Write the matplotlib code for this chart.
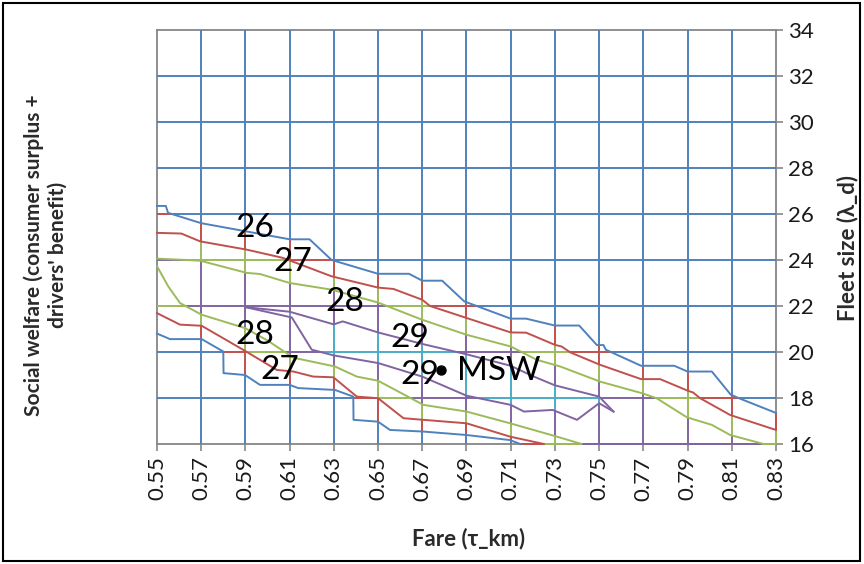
import numpy as np
import matplotlib
matplotlib.use("Agg")
import matplotlib.pyplot as plt
from matplotlib.collections import LineCollection
from matplotlib.patches import Rectangle

plt.rcParams['font.family'] = ['Lato', 'DejaVu Sans']

# fare axis and fleet axis categories
fares = np.round(np.arange(0.55, 0.8301, 0.02), 2)
fleets = np.arange(16, 35, 2)

# welfare contour lines (fare, fleet) - upper side of the ridge
fare_26_up = [0.550, 0.554, 0.555, 0.570, 0.590, 0.610, 0.619, 0.629, 0.650, 0.664, 0.670, 0.679, 0.689,
              0.696, 0.710, 0.717, 0.730, 0.741, 0.749, 0.752, 0.753, 0.769, 0.784, 0.790, 0.801, 0.8095,
              0.813, 0.830]
fleet_26_up = [26.35, 26.35, 26.05, 25.6, 25.25, 24.9, 24.9, 24.0, 23.4, 23.4, 23.1, 23.1, 22.2,
               21.95, 21.45, 21.45, 21.15, 21.15, 20.3, 20.3, 20.1, 19.4, 19.4, 19.15, 19.15, 18.15,
               18.0, 17.35]

fare_27_up = [0.550, 0.561, 0.5695, 0.5906, 0.607, 0.629, 0.650, 0.657, 0.670, 0.6735, 0.690, 0.710,
              0.717, 0.730, 0.733, 0.737, 0.7505, 0.769, 0.7776, 0.790, 0.7925, 0.7957, 0.8093, 0.830]
fleet_27_up = [25.18, 25.15, 24.81, 24.45, 24.09, 23.29, 22.8, 22.74, 22.27, 22.0, 21.48, 20.85,
               20.84, 20.31, 20.24, 19.98, 19.44, 18.82, 18.82, 18.32, 18.24, 17.99, 17.26, 16.61]

fare_28_up = [0.550, 0.5695, 0.5906, 0.5966, 0.610, 0.629, 0.650, 0.670, 0.690, 0.710, 0.7218, 0.7324,
              0.7505, 0.7693, 0.776, 0.7897, 0.801, 0.8093, 0.8244]
fleet_28_up = [24.06, 23.97, 23.44, 23.39, 23.0, 22.71, 22.15, 21.40, 20.75, 20.24, 19.66, 19.37,
               18.71, 18.21, 17.99, 17.16, 16.83, 16.39, 16.0]

fare_29_up = [0.590, 0.610, 0.630, 0.634, 0.650, 0.670, 0.690, 0.710, 0.720, 0.730, 0.750, 0.7565]
fleet_29_up = [21.95, 21.75, 21.2, 21.33, 20.85, 20.35, 19.9, 19.4, 18.95, 18.55, 18.06, 17.41]

# lower side of the ridge
fare_29_low = [0.590, 0.611, 0.620, 0.630, 0.650, 0.670, 0.690, 0.710, 0.716, 0.729, 0.740, 0.750, 0.7565]
fleet_29_low = [21.95, 21.5, 20.1, 19.85, 19.52, 18.93, 18.1, 17.7, 17.41, 17.48, 17.05, 17.77, 17.41]

fare_28_low = [0.550, 0.5551, 0.5604, 0.5702, 0.5898, 0.600, 0.6117, 0.6305, 0.6404, 0.650, 0.6705,
               0.690, 0.7097, 0.7309, 0.742]
fleet_28_low = [23.73, 22.85, 22.13, 21.62, 21.04, 20.5, 19.75, 19.37, 18.93, 18.75, 17.70,
                17.41, 16.90, 16.32, 16.0]

fare_27_low = [0.550, 0.5604, 0.5702, 0.5898, 0.6042, 0.6117, 0.6207, 0.6298, 0.6404, 0.650, 0.6615,
               0.6705, 0.690, 0.7097, 0.725]
fleet_27_low = [21.69, 21.19, 21.14, 20.05, 19.22, 19.15, 18.93, 18.9, 18.06, 17.99, 17.12,
                17.05, 16.9, 16.32, 16.0]

fare_26_low = [0.550, 0.5559, 0.5702, 0.580, 0.5801, 0.5898, 0.5966, 0.610, 0.6139, 0.6305, 0.6388,
               0.6389, 0.650, 0.6554, 0.6705, 0.690, 0.7097, 0.7143]
fleet_26_low = [20.8, 20.56, 20.56, 20.02, 19.08, 19.0, 18.57, 18.57, 18.43, 18.35, 18.06,
                17.05, 16.97, 16.61, 16.54, 16.39, 16.17, 16.0]

levels = [26, 27, 28, 29]
upper = [(fare_26_up, fleet_26_up), (fare_27_up, fleet_27_up),
         (fare_28_up, fleet_28_up), (fare_29_up, fleet_29_up)]
lower = [(fare_26_low, fleet_26_low), (fare_27_low, fleet_27_low),
         (fare_28_low, fleet_28_low), (fare_29_low, fleet_29_low)]

# maximum social welfare point
msw_fare, msw_fleet = 0.6785, 19.22

# excel-like band colours: <26, 26-27, 27-28, 28-29, >29
band_colors = ['#4f81bd', '#c0504d', '#9bbb59', '#8064a2', '#4bacc6']
line_colors = ['#4f81bd', '#c0504d', '#9bbb59', '#8064a2']


def edge(x, xs, ys):
    v = np.interp(x, xs, ys)
    return np.where((x >= xs[0]) & (x <= xs[-1]), v, -np.inf)


def band(x, y):
    n = np.zeros(np.broadcast(x, y).shape, dtype=int)
    for (ux, uy), (lx, ly) in zip(upper, lower):
        n += (y < edge(x, ux, uy)) & (y > edge(x, lx, ly))
    return n


def colored_line(ax, x, y, skip_base=False):
    b = band(x, y)
    cut = np.flatnonzero(np.diff(b)) + 1
    starts = np.r_[0, cut]
    ends = np.r_[cut, len(b) - 1]
    segs, cols = [], []
    for s, e in zip(starts, ends):
        if skip_base and b[s] == 0:
            continue
        segs.append([(x[s], y[s]), (x[e], y[e])])
        cols.append(band_colors[b[s]])
    ax.add_collection(LineCollection(segs, colors=cols, linewidths=1.4, zorder=3, clip_on=False))


fig = plt.figure(figsize=(8.64, 5.64), dpi=100)
ax = fig.add_axes([0.1817, 0.2128, 0.7164, 0.734])
ax.set_xlim(0.55, 0.83)
ax.set_ylim(16, 34)

# gridlines coloured by welfare band
ys = np.linspace(16, 34, 1801)
for f in fares[1:]:
    colored_line(ax, np.full_like(ys, f), ys, skip_base=(f == fares[-1]))
xs = np.linspace(0.55, 0.83, 2801)
for fl in fleets[:-1]:
    colored_line(ax, xs, np.full_like(xs, float(fl)), skip_base=(fl == fleets[0]))

# contour lines
for (ux, uy), (lx, ly), c in zip(upper, lower, line_colors):
    ax.plot(ux, uy, color=c, lw=1.4, zorder=4, clip_on=False)
    ax.plot(lx, ly, color=c, lw=1.4, zorder=4, clip_on=False)

# contour labels
label_pos = [(0.5943, 25.41, '26'), (0.6115, 23.93, '27'), (0.635, 22.19, '28'), (0.6645, 20.62, '29'),
             (0.5943, 20.75, '28'), (0.6057, 19.22, '27'), (0.669, 19.0, '29')]
for lx, ly, t in label_pos:
    ax.text(lx, ly, t, fontsize=24, ha='center', va='center', color='black', zorder=6)

ax.plot(msw_fare, msw_fleet, 'o', color='black', ms=6.5, zorder=6)
ax.text(msw_fare + 0.0072, msw_fleet - 0.05, 'MSW', fontsize=24, ha='left', va='center', zorder=6)

# axes styling
for s in ax.spines.values():
    s.set_color('#868686')
    s.set_linewidth(1.3)
    s.set_zorder(2.5)
ax.set_xticks(fares)
ax.set_xticklabels([f'{f:.2f}' for f in fares], rotation=90)
ax.set_yticks(fleets)
ax.yaxis.tick_right()
ax.tick_params(axis='both', direction='out', length=5, width=1.2, color='#868686',
               labelsize=16, labelcolor='#1a1a1a', pad=4)
ax.tick_params(axis='y', left=False)

fig.text(0.542, 0.046, 'Fare (τ_km)', fontsize=16, fontweight='bold', ha='center', va='center',
         color='#2a2a2a')
fig.text(0.981, 0.56, 'Fleet size (λ_d)', fontsize=16, fontweight='bold', ha='center', va='center',
         rotation=90, color='#2a2a2a')
fig.text(0.053, 0.548, "Social welfare (consumer surplus +\ndrivers' benefit)", fontsize=15,
         fontweight='bold', ha='center', va='center', rotation=90, multialignment='center',
         color='#2a2a2a', linespacing=1.2)

# frame around the whole chart
fig.patches.append(Rectangle((0.004, 0.006), 0.991, 0.988, transform=fig.transFigure,
                             fill=False, edgecolor='black', linewidth=1.5))

fig.savefig('out.png', dpi=100)
